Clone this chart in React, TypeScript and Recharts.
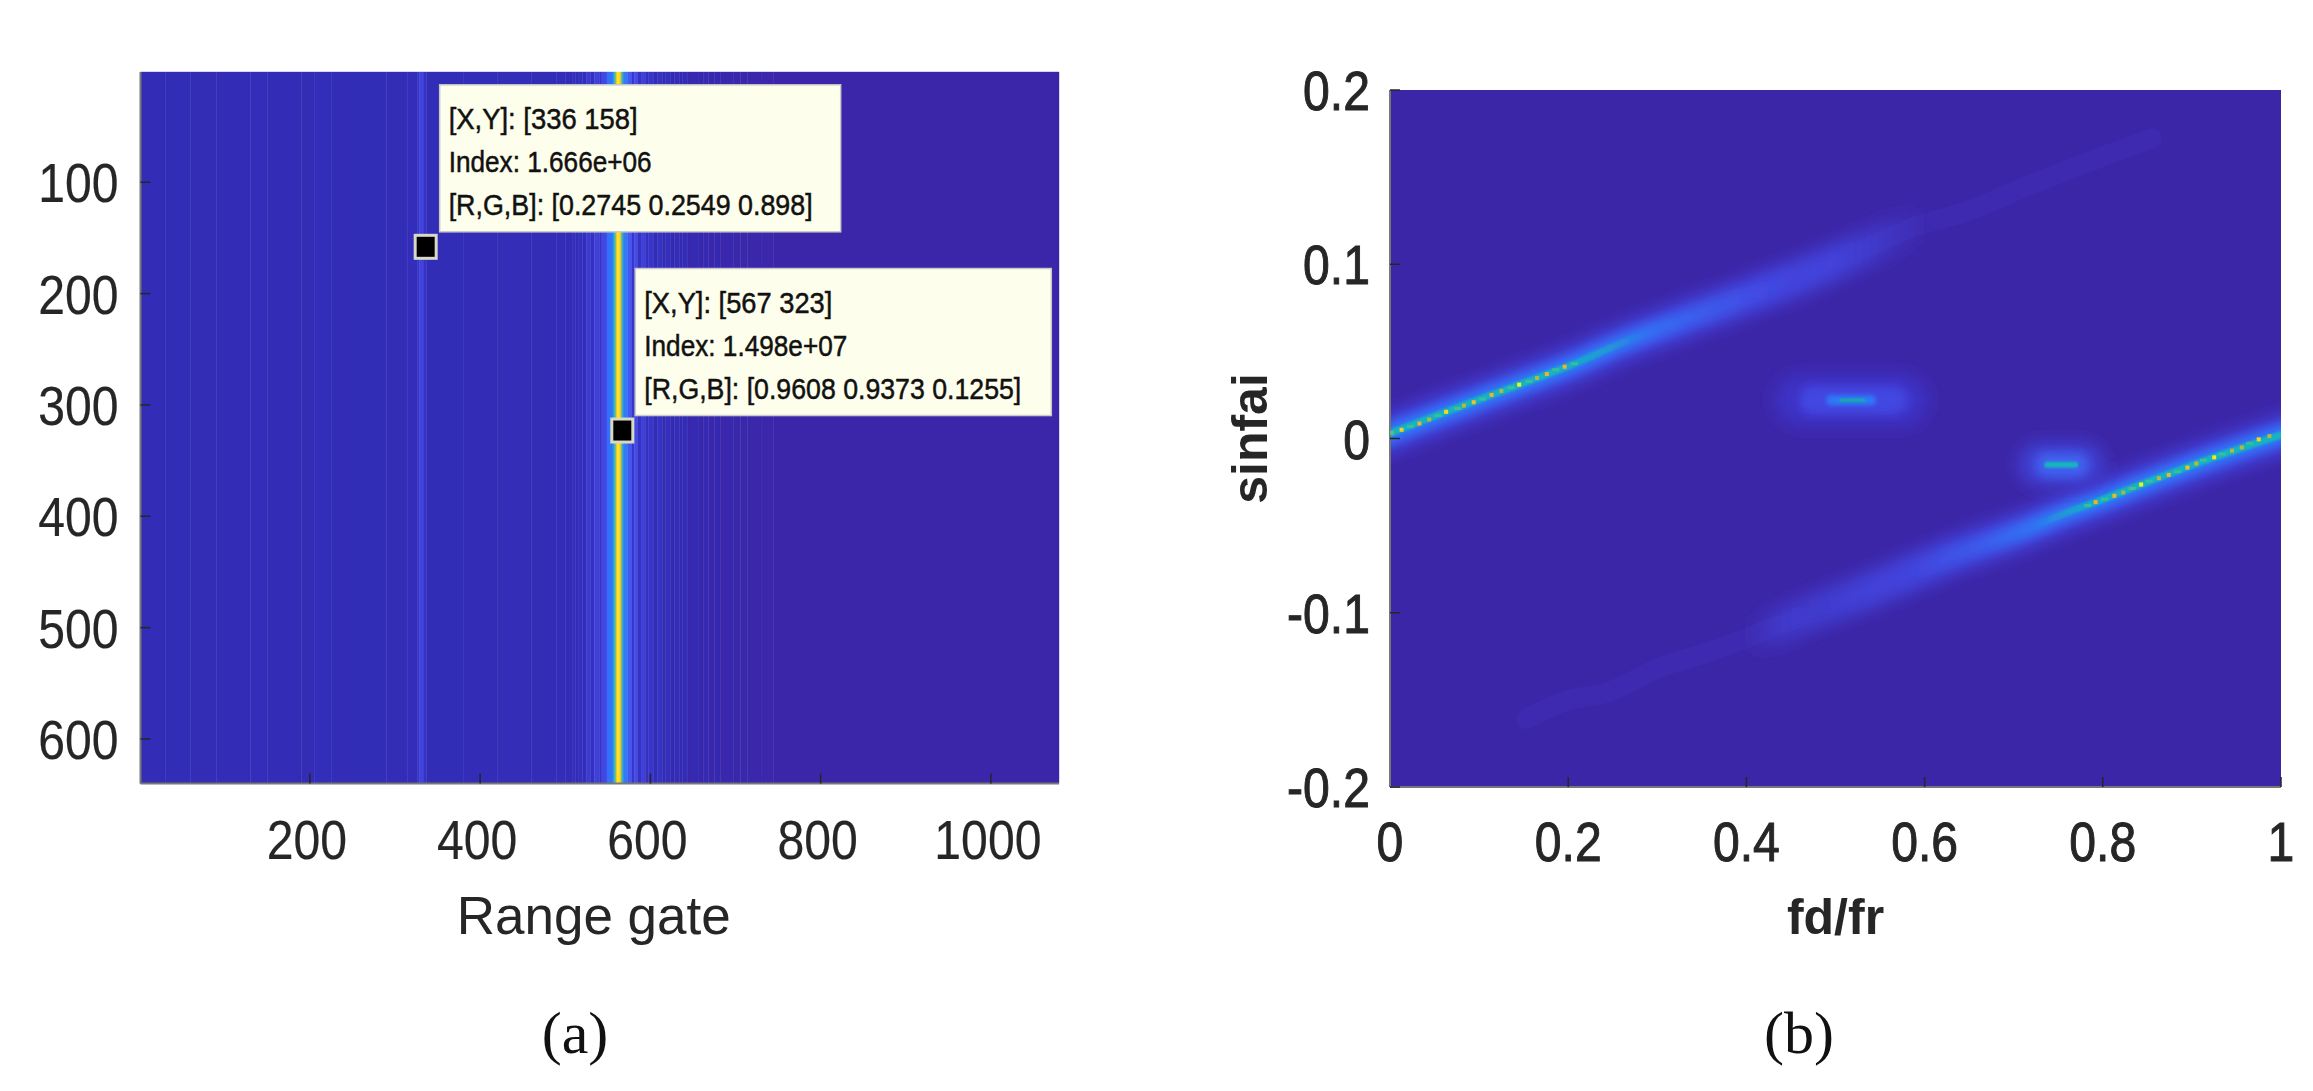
import { ComposedChart, Line, Scatter, XAxis, YAxis, ReferenceArea } from "recharts";

// panel (a): range profile, level per band of gates
const bandStart = [
  1, 30, 60, 90, 130, 150, 190, 205, 225, 260, 290, 315, 326, 329, 334, 337, 380, 420, 460, 490,
  500, 508, 512, 516, 520, 525, 530, 534, 540, 543, 549, 556, 558, 559.5, 561, 564, 566, 568, 573,
  578, 581, 585, 589, 594, 598, 604, 608, 614, 618, 624, 628, 634, 638, 644, 650, 656, 662, 668,
  675, 682, 690, 698, 706, 714, 730, 745,
];
const bandLevel = [
  0.03, 0.032, 0.028, 0.03, 0.034, 0.03, 0.028, 0.036, 0.03, 0.032, 0.03, 0.034, 0.05, 0.085, 0.05,
  0.032, 0.03, 0.033, 0.03, 0.034,
  0.03, 0.04, 0.03, 0.045, 0.035, 0.07, 0.045, 0.08, 0.05, 0.09, 0.17, 0.3, 0.55, 0.85, 0.97, 0.85,
  0.5, 0.2, 0.13, 0.06, 0.1, 0.05, 0.08, 0.04, 0.06, 0.03, 0.05, 0.025, 0.04, 0.02, 0.035, 0.015,
  0.03, 0.012, 0.025, 0.01, 0.02, 0.008, 0.016, 0.006, 0.012, 0.005, 0.009, 0.004, 0.007, 0.002,
];
const gateTicks = [200, 400, 600, 800, 1000];
const pulseTicks = [100, 200, 300, 400, 500, 600];
const tipGate = [336, 567];
const tipPulse = [158, 323];
const tipText = [
  ["[X,Y]: [336 158]", "Index: 1.666e+06", "[R,G,B]: [0.2745 0.2549 0.898]"],
  ["[X,Y]: [567 323]", "Index: 1.498e+07", "[R,G,B]: [0.9608 0.9373 0.1255]"],
];

// panel (b): ridge centre lines
const upperX = [-0.03, 0, 0.063, 0.145, 0.207, 0.257, 0.324, 0.399, 0.485, 0.534, 0.586, 0.646, 0.721, 0.796, 0.855];
const upperY = [-0.003, 0.003, 0.0153, 0.0309, 0.0429, 0.0541, 0.0671, 0.0811, 0.0981, 0.1091, 0.1211, 0.1301, 0.1461, 0.1611, 0.1721];
const lowerX = [0.153, 0.201, 0.242, 0.305, 0.355, 0.418, 0.462, 0.538, 0.627, 0.714, 0.762, 0.792, 0.843, 0.925, 0.996, 1.03];
const lowerY = [-0.161, -0.15, -0.146, -0.131, -0.123, -0.111, -0.102, -0.087, -0.068, -0.052, -0.042, -0.0365, -0.0264, -0.0108, 0.0014, 0.007];

// bright pixels along each ridge
const upperDotX = [0.002, 0.013, 0.023, 0.033, 0.044, 0.054, 0.063, 0.076, 0.083, 0.094, 0.104, 0.114, 0.125, 0.136, 0.145, 0.156, 0.165, 0.176, 0.186, 0.196, 0.207];
const upperDotY = [0.0033, 0.005, 0.0069, 0.0086, 0.0109, 0.0132, 0.0153, 0.0172, 0.0189, 0.0208, 0.0227, 0.025, 0.0273, 0.0292, 0.0309, 0.0328, 0.0347, 0.037, 0.0395, 0.0412, 0.0429];
const upperDotLevel = [0.6, 0.9, 0.55, 0.8, 0.7, 0.55, 0.95, 0.58, 0.7, 0.85, 0.55, 0.8, 0.7, 0.55, 1, 0.55, 0.7, 0.8, 0.55, 0.8, 0.55];
const lowerDotX = [0.987, 0.975, 0.965, 0.956, 0.945, 0.934, 0.925, 0.913, 0.905, 0.895, 0.884, 0.874, 0.863, 0.852, 0.843, 0.833, 0.823, 0.813, 0.802, 0.792, 0.783];
const lowerDotY = [0.0014, -0.0005, -0.0028, -0.0051, -0.007, -0.0089, -0.0108, -0.0125, -0.0144, -0.0167, -0.019, -0.0209, -0.0228, -0.0245, -0.0264, -0.0287, -0.031, -0.0329, -0.0348, -0.0365, -0.0384];
const lowerDotLevel = [0.7, 0.92, 0.55, 0.72, 0.7, 0.55, 0.97, 0.56, 0.72, 0.85, 0.55, 0.82, 0.72, 0.55, 1, 0.58, 0.68, 0.82, 0.55, 0.8, 0.55];

// two small returns between the ridges
const blobOneY = 0.022;
const blobTwoY = -0.015;

const freqTicks = [0, 0.2, 0.4, 0.6, 0.8, 1];
const sinTicks = [-0.2, -0.1, 0, 0.1, 0.2];

const SANS = '"Liberation Sans", Arial, sans-serif';
const INK = "#262626";
const BG = "#3c26a8";
const FRAME = "#777777";

const colorLevels = [0, 0.03, 0.06, 0.09, 0.12, 0.17, 0.25, 0.4, 0.55, 0.7, 0.8, 0.95, 1];
const colorStops = [
  [60, 38, 168], [50, 44, 182], [56, 54, 202], [66, 70, 226], [69, 82, 240], [50, 114, 248],
  [42, 144, 232], [20, 180, 196], [53, 191, 154], [176, 184, 64], [240, 176, 48], [251, 216, 32], [250, 246, 20],
];

function levelColor(v: number) {
  let i = 0;
  while (i < colorLevels.length - 2 && v > colorLevels[i + 1]) i++;
  const t = Math.min(1, (v - colorLevels[i]) / (colorLevels[i + 1] - colorLevels[i]));
  const c = colorStops[i].map((a, k) => Math.round(a + (colorStops[i + 1][k] - a) * t));
  return `rgb(${c[0]},${c[1]},${c[2]})`;
}

const zip = (xs: number[], ys: number[]) => xs.map((x, i) => ({ x, y: ys[i] }));
const upperLine = zip(upperX, upperY);
const lowerLine = zip(lowerX, lowerY);
const upperDots = upperDotX.map((x, i) => ({ x, y: upperDotY[i], level: upperDotLevel[i] }));
const lowerDots = lowerDotX.map((x, i) => ({ x, y: lowerDotY[i], level: lowerDotLevel[i] }));
const tips = tipGate.map((gate, i) => ({ gate, pulse: tipPulse[i], lines: tipText[i], index: i }));

// fades along a ridge: [x, opacity]
const ridgeLayers = [
  { id: "upGlow", line: upperLine, color: "#4347e4", width: 36, blur: "b8", fade: [[-0.03, 1], [0.32, 1], [0.42, 0.95], [0.5, 0.8], [0.55, 0.45], [0.6, 0]] },
  { id: "upMid", line: upperLine, color: "#2f78f8", width: 18, blur: "b5", fade: [[-0.03, 1], [0.22, 1], [0.29, 0.8], [0.36, 0.35], [0.44, 0]] },
  { id: "upCore", line: upperLine, color: "#14b4c0", width: 7, blur: "b1", fade: [[-0.03, 1], [0.18, 1], [0.24, 0.6], [0.29, 0]] },
  { id: "loGlow", line: lowerLine, color: "#4347e4", width: 36, blur: "b8", fade: [[0.4, 0], [0.44, 0.5], [0.54, 0.8], [0.65, 0.95], [0.75, 1], [1.03, 1]] },
  { id: "loMid", line: lowerLine, color: "#2f78f8", width: 18, blur: "b5", fade: [[0.58, 0], [0.65, 0.35], [0.72, 0.85], [0.78, 1], [1.03, 1]] },
  { id: "loCore", line: lowerLine, color: "#14b4c0", width: 7, blur: "b1", fade: [[0.72, 0], [0.76, 0.6], [0.8, 1], [1.03, 1]] },
];

const blobLayers = [
  { y: blobOneY, x1: 0.46, x2: 0.575, color: "#3e33c6", width: 52, blur: "b8" },
  { y: blobOneY, x1: 0.475, x2: 0.565, color: "#4246e2", width: 28, blur: "b5" },
  { y: blobOneY, x1: 0.495, x2: 0.54, color: "#2f78f8", width: 10, blur: "b2" },
  { y: blobOneY, x1: 0.506, x2: 0.532, color: "#14b49c", width: 3, blur: "b1" },
  { y: blobTwoY, x1: 0.73, x2: 0.777, color: "#4040d4", width: 44, blur: "b8" },
  { y: blobTwoY, x1: 0.738, x2: 0.77, color: "#3f62f0", width: 24, blur: "b5" },
  { y: blobTwoY, x1: 0.7375, x2: 0.769, color: "#14b4c0", width: 6, blur: "b1" },
];

function StretchedTick(props: any) {
  const { x, y, payload, textAnchor, dx, dy, heavy } = props;
  return (
    <text
      transform={`translate(${x + dx},${y + dy}) scale(0.86,1)`}
      textAnchor={textAnchor}
      fontFamily={SANS}
      fontSize={56}
      fill={INK}
      stroke={INK}
      strokeWidth={heavy}
    >
      {payload.value}
    </text>
  );
}

function TipShape(props: any) {
  const { cx, cy, payload } = props;
  const first = payload.index === 0;
  const left = cx + (first ? 14 : 13);
  const top = cy - 162;
  const boxW = first ? 401 : 416;
  const lens = first ? [189, 203, 364] : [188, 203, 377];
  return (
    <g>
      <rect x={left} y={top} width={boxW} height={147} fill="#fefeec" stroke="#c9c9c9" strokeWidth={1.5} />
      {payload.lines.map((t: string, i: number) => (
        <text
          key={i}
          x={left + 9}
          y={top + 44 + i * 43}
          fontFamily={SANS}
          fontSize={30}
          fill="#111"
          stroke="#111"
          strokeWidth={0.5}
          textLength={lens[i]}
          lengthAdjust="spacingAndGlyphs"
        >
          {t}
        </text>
      ))}
      <rect x={cx - 10.5} y={cy - 11.5} width={21} height={23} fill="#000" stroke="#d8d8c8" strokeWidth={3} />
    </g>
  );
}

function DotShape(props: any) {
  const { cx, cy, payload } = props;
  const wide = payload.level < 0.6;
  const w = wide ? 7 : 4;
  const h = wide ? 3 : 4;
  return <rect x={cx - w / 2} y={cy - h / 2} width={w} height={h} fill={levelColor(payload.level)} />;
}

function RangePanel() {
  return (
    <ComposedChart width={1160} height={1091} margin={{ top: 72, right: 101, bottom: 157.5, left: 10.5 }}>
      {bandStart.map((g, i) => (
        <ReferenceArea
          key={g}
          x1={g}
          x2={bandStart[i + 1] ?? 1080}
          fill={levelColor(bandLevel[i])}
          fillOpacity={1}
          stroke={levelColor(bandLevel[i])}
          strokeWidth={0.4}
        />
      ))}
      <XAxis
        type="number"
        dataKey="gate"
        domain={[1, 1080]}
        ticks={gateTicks}
        interval={0}
        height={150}
        tickSize={-10}
        tickMargin={10}
        tick={(p: any) => <StretchedTick {...p} dx={-3} dy={75.5} heavy={0.2} />}
        stroke={FRAME}
        strokeWidth={2}
        tickLine={{ stroke: INK, strokeWidth: 1.5 }}
        label={{ value: "Range gate", position: "insideBottom", offset: 0, dx: -6, fontSize: 53, fill: INK, fontFamily: SANS }}
      />
      <XAxis xAxisId="top" orientation="top" type="number" domain={[1, 1080]} ticks={gateTicks} interval={0} height={0} tickSize={-10} tick={false} stroke={FRAME} strokeWidth={2} />
      <YAxis
        type="number"
        dataKey="pulse"
        reversed
        domain={[1, 640]}
        ticks={pulseTicks}
        interval={0}
        width={130}
        tickSize={-10}
        tickMargin={10}
        tick={(p: any) => <StretchedTick {...p} dx={-22} dy={20} heavy={0.2} />}
        stroke={FRAME}
        strokeWidth={2}
        tickLine={{ stroke: INK, strokeWidth: 1.5 }}
      />
      <YAxis yAxisId="right" orientation="right" type="number" reversed domain={[1, 640]} ticks={pulseTicks} interval={0} width={0} tickSize={-10} tick={false} stroke={FRAME} strokeWidth={2} />
      <Scatter data={tips} dataKey="pulse" shape={TipShape} isAnimationActive={false} />
    </ComposedChart>
  );
}

function DopplerPanel() {
  const labelStyle = { fontSize: 50, fill: INK, fontFamily: SANS, fontWeight: 700 };
  return (
    <ComposedChart width={1153} height={1091} margin={{ top: 90, right: 32, bottom: 154, left: 30 }}>
      <defs>
        {[["b8", 8], ["b5", 5], ["b2", 2], ["b1", 1]].map(([id, s]) => (
          <filter key={id} id={String(id)} filterUnits="userSpaceOnUse" x="0" y="0" width="1153" height="1091">
            <feGaussianBlur stdDeviation={s} />
          </filter>
        ))}
        {ridgeLayers.map((r) => {
          const x0 = r.line[0].x;
          const x1 = r.line[r.line.length - 1].x;
          return (
            <linearGradient key={r.id} id={r.id} x1="0" y1="0" x2="1" y2="0">
              {r.fade.map(([x, o]) => (
                <stop key={x} offset={(x - x0) / (x1 - x0)} stopColor={r.color} stopOpacity={o} />
              ))}
            </linearGradient>
          );
        })}
      </defs>
      <ReferenceArea x1={0} x2={1} fill={BG} fillOpacity={1} />
      <XAxis
        type="number"
        dataKey="x"
        domain={[0, 1]}
        allowDataOverflow
        ticks={freqTicks}
        interval={0}
        height={150}
        tickSize={-10}
        tickMargin={10}
        tick={(p: any) => <StretchedTick {...p} dx={0} dy={74} heavy={1} />}
        stroke={FRAME}
        strokeWidth={2}
        tickLine={{ stroke: INK, strokeWidth: 1.5 }}
        label={{ value: "fd/fr", position: "insideBottom", offset: 3, ...labelStyle }}
      />
      <XAxis xAxisId="top" orientation="top" type="number" domain={[0, 1]} ticks={freqTicks} interval={0} height={0} tickSize={-10} tick={false} stroke={FRAME} strokeWidth={2} />
      <YAxis
        type="number"
        dataKey="y"
        domain={[-0.2, 0.2]}
        allowDataOverflow
        ticks={sinTicks}
        interval={0}
        width={200}
        tickSize={-10}
        tickMargin={10}
        tick={(p: any) => <StretchedTick {...p} dx={-20} dy={20} heavy={1} />}
        stroke={FRAME}
        strokeWidth={2}
        tickLine={{ stroke: INK, strokeWidth: 1.5 }}
        label={{ value: "sinfai", angle: -90, position: "insideLeft", offset: 59, style: { textAnchor: "middle" }, ...labelStyle }}
      />
      <YAxis yAxisId="right" orientation="right" type="number" domain={[-0.2, 0.2]} ticks={sinTicks} interval={0} width={0} tickSize={-10} tick={false} stroke={FRAME} strokeWidth={2} />
      {/* faint tails of the two ridges */}
      <Line data={upperLine.slice(8)} dataKey="y" type="monotone" stroke="#3e2ab0" strokeWidth={20} strokeLinecap="round" dot={false} activeDot={false} isAnimationActive={false} />
      <Line data={lowerLine.slice(0, 7)} dataKey="y" type="monotone" stroke="#3e2ab0" strokeWidth={20} strokeLinecap="round" dot={false} activeDot={false} isAnimationActive={false} />
      {ridgeLayers.map((r) => (
        <Line
          key={r.id}
          data={r.line}
          dataKey="y"
          type="monotone"
          stroke={`url(#${r.id})`}
          strokeWidth={r.width}
          filter={`url(#${r.blur})`}
          dot={false}
          activeDot={false}
          isAnimationActive={false}
        />
      ))}
      {blobLayers.map((b, i) => (
        <Line
          key={i}
          data={[{ x: b.x1, y: b.y }, { x: b.x2, y: b.y }]}
          dataKey="y"
          type="linear"
          stroke={b.color}
          strokeWidth={b.width}
          strokeLinecap="round"
          filter={`url(#${b.blur})`}
          dot={false}
          activeDot={false}
          isAnimationActive={false}
        />
      ))}
      <Scatter data={upperDots} dataKey="y" shape={DotShape} isAnimationActive={false} />
      <Scatter data={lowerDots} dataKey="y" shape={DotShape} isAnimationActive={false} />
    </ComposedChart>
  );
}

const captionStyle = {
  position: "absolute" as const,
  top: 997,
  width: 200,
  textAlign: "center" as const,
  fontFamily: '"Liberation Serif", serif',
  fontSize: 60,
  color: "#111",
  lineHeight: "72px",
};

export default function App() {
  return (
    <div style={{ position: "absolute", left: 0, top: 0, width: 2313, height: 1091, background: "#fff", overflow: "hidden" }}>
      <div style={{ position: "absolute", left: 0, top: 0 }}>
        <RangePanel />
      </div>
      <div style={{ position: "absolute", left: 1160, top: 0 }}>
        <DopplerPanel />
      </div>
      <div style={{ ...captionStyle, left: 475 }}>(a)</div>
      <div style={{ ...captionStyle, left: 1699 }}>(b)</div>
    </div>
  );
}
